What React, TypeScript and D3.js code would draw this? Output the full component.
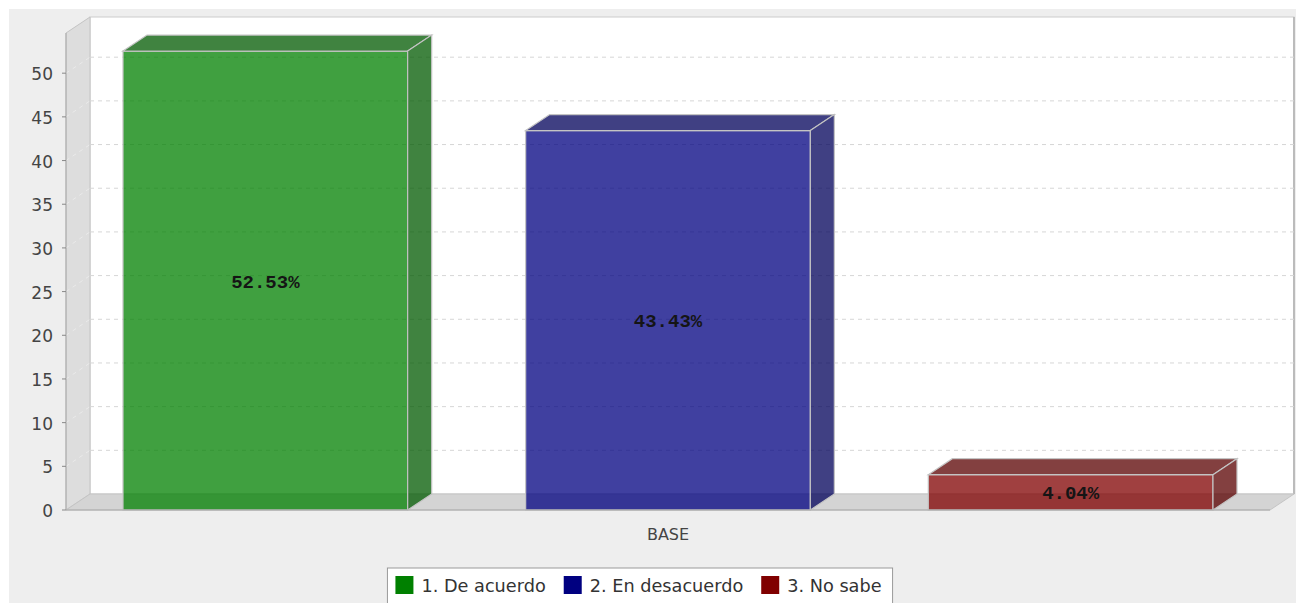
import React, { useEffect, useRef } from "react";
import * as d3 from "d3";

const categories = ["BASE"];
const seriesNames = ["1. De acuerdo", "2. En desacuerdo", "3. No sabe"];
const seriesValues = [52.53, 43.43, 4.04];
const seriesColors = ["#008000", "#000080", "#800000"];
const yTicks = [0, 5, 10, 15, 20, 25, 30, 35, 40, 45, 50];

const App = () => {
  const chartRef = useRef<SVGSVGElement>(null);

  useEffect(() => {
    // 3D offsets and front plot area
    const dx = 24;
    const dy = 16;
    const left = 66;
    const right = 1270;
    const bottom = 510;
    const top = 33;

    const svg = d3.select(chartRef.current);
    svg.selectAll("*").remove();

    // Scales
    const y = d3.scaleLinear().domain([0, 54.6]).range([bottom, top]);
    const x0 = d3
      .scaleBand()
      .domain(categories)
      .range([left, right])
      .padding(0.0497);
    const x1 = d3
      .scaleBand()
      .domain(seriesNames)
      .range([0, x0.bandwidth()])
      .paddingInner(0.293);

    // Chart background
    svg
      .append("rect")
      .attr("x", 9)
      .attr("y", 9)
      .attr("width", 1287)
      .attr("height", 594)
      .attr("fill", "#eeeeee");

    // Back wall
    svg
      .append("rect")
      .attr("x", left + dx)
      .attr("y", top - dy)
      .attr("width", right - left)
      .attr("height", bottom - top)
      .attr("fill", "#ffffff")
      .attr("stroke", "#cccccc");
    svg
      .append("line")
      .attr("x1", right + dx)
      .attr("x2", right + dx)
      .attr("y1", top - dy)
      .attr("y2", bottom - dy)
      .attr("stroke", "#bbbbbb")
      .attr("stroke-width", 2);

    const line = d3.line();

    // Side wall
    svg
      .append("path")
      .attr(
        "d",
        line([
          [left, top],
          [left + dx, top - dy],
          [left + dx, bottom - dy],
          [left, bottom],
        ]) + "Z"
      )
      .attr("fill", "#dddddd")
      .attr("stroke", "#c4c4c4");

    // Floor
    svg
      .append("path")
      .attr(
        "d",
        line([
          [left, bottom],
          [left + dx, bottom - dy],
          [right + dx, bottom - dy],
          [right, bottom],
        ]) + "Z"
      )
      .attr("fill", "#d4d4d4")
      .attr("stroke", "#c4c4c4");

    // Gridlines
    const grid = svg.append("g");
    yTicks
      .filter((t) => t > 0)
      .forEach((t) => {
        grid
          .append("line")
          .attr("x1", left + dx)
          .attr("x2", right + dx)
          .attr("y1", y(t) - dy)
          .attr("y2", y(t) - dy)
          .attr("stroke", "#d6d6d6")
          .attr("stroke-dasharray", "4,4");
        grid
          .append("line")
          .attr("x1", left)
          .attr("x2", left + dx)
          .attr("y1", y(t))
          .attr("y2", y(t) - dy)
          .attr("stroke", "#eaeaea")
          .attr("stroke-dasharray", "4,4");
      });

    // Bars
    const bw = x1.bandwidth();
    seriesNames.forEach((name, i) => {
      const v = seriesValues[i];
      const xs = (x0(categories[0]) as number) + (x1(name) as number);
      const yt = y(v);
      const yb = y(0);
      const dark = d3.rgb(seriesColors[i]).darker(1).formatHex();
      const g = svg.append("g");

      g.append("rect")
        .attr("x", xs)
        .attr("y", yt)
        .attr("width", bw)
        .attr("height", yb - yt)
        .attr("fill", seriesColors[i])
        .attr("fill-opacity", 0.75)
        .attr("stroke", "#c4c4c4")
        .attr("stroke-width", 1.2);

      g.append("path")
        .attr(
          "d",
          line([
            [xs, yt],
            [xs + dx, yt - dy],
            [xs + bw + dx, yt - dy],
            [xs + bw, yt],
          ]) + "Z"
        )
        .attr("fill", dark)
        .attr("fill-opacity", 0.75)
        .attr("stroke", "#c4c4c4")
        .attr("stroke-width", 1.2);

      g.append("path")
        .attr(
          "d",
          line([
            [xs + bw, yt],
            [xs + bw + dx, yt - dy],
            [xs + bw + dx, yb - dy],
            [xs + bw, yb],
          ]) + "Z"
        )
        .attr("fill", dark)
        .attr("fill-opacity", 0.75)
        .attr("stroke", "#c4c4c4")
        .attr("stroke-width", 1.2);

      g.append("text")
        .attr("x", xs + bw / 2)
        .attr("y", (yt + yb) / 2 + 2)
        .attr("text-anchor", "middle")
        .attr("dominant-baseline", "central")
        .attr("font-family", "'Liberation Mono', monospace")
        .attr("font-weight", "bold")
        .attr("font-size", 19)
        .attr("fill", "#151515")
        .text(`${v.toFixed(2)}%`);
    });

    // Value axis
    const axis = svg.append("g");
    axis
      .append("line")
      .attr("x1", left)
      .attr("x2", left)
      .attr("y1", top)
      .attr("y2", bottom)
      .attr("stroke", "#aaaaaa");
    yTicks.forEach((t) => {
      axis
        .append("line")
        .attr("x1", left - 4)
        .attr("x2", left)
        .attr("y1", y(t))
        .attr("y2", y(t))
        .attr("stroke", "#888888");
      axis
        .append("text")
        .attr("x", left - 13)
        .attr("y", y(t) + 1)
        .attr("text-anchor", "end")
        .attr("dominant-baseline", "central")
        .attr("font-family", "'DejaVu Sans', sans-serif")
        .attr("font-size", 17)
        .attr("fill", "#444444")
        .text(t);
    });

    // Category axis
    svg
      .append("line")
      .attr("x1", left)
      .attr("x2", right)
      .attr("y1", bottom)
      .attr("y2", bottom)
      .attr("stroke", "#aaaaaa");
    categories.forEach((c) => {
      svg
        .append("text")
        .attr("x", (x0(c) as number) + x0.bandwidth() / 2)
        .attr("y", 534)
        .attr("text-anchor", "middle")
        .attr("dominant-baseline", "central")
        .attr("font-family", "'DejaVu Sans', sans-serif")
        .attr("font-size", 16)
        .attr("fill", "#444444")
        .text(c);
    });

    // Legend
    const legend = svg.append("g");
    const box = legend
      .append("rect")
      .attr("y", 568)
      .attr("height", 44)
      .attr("fill", "#ffffff")
      .attr("stroke", "#999999");
    let cx = 8;
    const items: { g: any; x: number }[] = [];
    seriesNames.forEach((name, i) => {
      const ig = legend.append("g");
      ig.append("rect")
        .attr("x", 0)
        .attr("y", 576)
        .attr("width", 18)
        .attr("height", 18)
        .attr("fill", seriesColors[i]);
      const txt = ig
        .append("text")
        .attr("x", 26)
        .attr("y", 586)
        .attr("dominant-baseline", "central")
        .attr("font-family", "'DejaVu Sans', sans-serif")
        .attr("font-size", 17.7)
        .attr("fill", "#333333")
        .text(name);
      const tw = (txt.node() as SVGTextElement).getComputedTextLength();
      items.push({ g: ig, x: cx });
      cx += 26 + tw + 18;
    });
    const total = cx - 18 + 11;
    const lx = 640 - total / 2;
    box.attr("x", lx).attr("width", total);
    items.forEach((it) => it.g.attr("transform", `translate(${lx + it.x},0)`));
  }, []);

  return (
    <svg
      ref={chartRef}
      width={1296}
      height={603}
      style={{ position: "absolute", left: 0, top: 0 }}
    />
  );
};

export default App;
